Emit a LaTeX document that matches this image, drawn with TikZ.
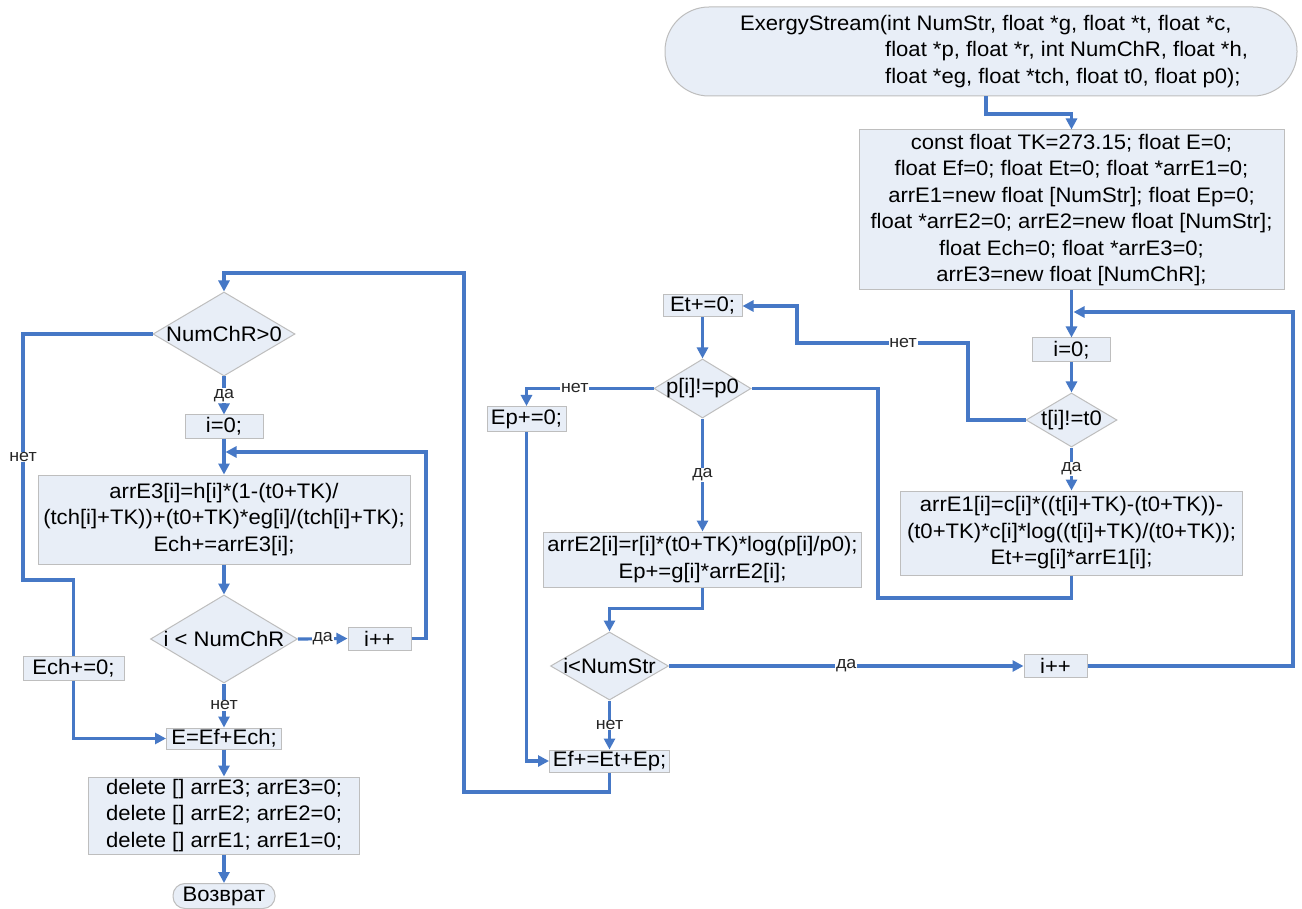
\documentclass[tikz,border=0pt]{standalone}
\usepackage{fontspec}
\setmainfont{Liberation Sans}[FakeStretch=1.05]
\usetikzlibrary{shapes.geometric,arrows.meta,calc}
\definecolor{flow}{RGB}{70,120,198}
\definecolor{boxfill}{RGB}{232,238,247}
\definecolor{boxline}{RGB}{190,190,190}
\begin{document}
\begin{tikzpicture}[x=1pt,y=-1pt,
  every node/.style={font=\fontsize{21}{26.5}\selectfont},
  blk/.style={draw=boxline, fill=boxfill, line width=1pt, inner sep=0pt, align=center},
  term/.style={blk, rounded corners=#1},
  dec/.style={draw=boxline, fill=boxfill, line width=1pt, diamond, inner sep=0pt},
  flowline/.style={draw=flow, line width=3.2pt},
  arr/.style={flowline, -{Triangle[length=11pt,width=11pt]}},
  lbl/.style={fill=white, inner sep=0.8pt, text=black!85, font=\fontsize{17}{18}\selectfont},
]
\useasboundingbox[fill=white] (0,0) rectangle (1302,909);

% ---- entry and initialisation
\node[term=44pt, minimum width=632, minimum height=89] (start) at (981,51.5) {};
\node[anchor=west, align=left, inner sep=0pt] (starttext) at (740,51.5)
  {ExergyStream(int NumStr, float *g, float *t, float *c,\\
   \hspace*{145pt}float *p, float *r, int NumChR, float *h,\\
   \hspace*{145pt}float *eg, float *tch, float t0, float p0);};
\node[blk, minimum width=425, minimum height=160] (init) at (1071.5,210)
  {const float TK=273.15; float E=0;\\
   float Ef=0; float Et=0; float *arrE1=0;\\
   arrE1=new float [NumStr]; float Ep=0;\\
   float *arrE2=0; arrE2=new float [NumStr];\\
   float Ech=0; float *arrE3=0;\\
   arrE3=new float [NumChR];};

% ---- loop over streams
\node[blk, minimum width=78, minimum height=24] (i0R) at (1071.5,350) {i=0;};
\node[dec, minimum width=91, minimum height=54, label={center:t[i]!=t0}] (tdiam) at (1071.5,420) {};
\node[blk, minimum width=342, minimum height=84] (arrE1) at (1071.5,533)
  {arrE1[i]=c[i]*((t[i]+TK)-(t0+TK))-\\
   (t0+TK)*c[i]*log((t[i]+TK)/(t0+TK));\\
   Et+=g[i]*arrE1[i];};
\node[blk, minimum width=79, minimum height=22] (EtZ) at (702.5,306) {Et+=0;};
\node[dec, minimum width=97, minimum height=59, label={center:p[i]!=p0}] (pdiam) at (702.5,388.5) {};
\node[blk, minimum width=79, minimum height=25] (EpZ) at (526.5,419) {Ep+=0;};
\node[blk, minimum width=318, minimum height=55] (arrE2) at (702.5,559.5)
  {arrE2[i]=r[i]*(t0+TK)*log(p[i]/p0);\\
   Ep+=g[i]*arrE2[i];};
\node[dec, minimum width=118, minimum height=68, label={center:i<NumStr}] (ndiam) at (609.5,666) {};
\node[blk, minimum width=63, minimum height=23] (ippR) at (1055.5,666) {i++};
\node[blk, minimum width=120, minimum height=22] (Ef) at (609.5,761) {Ef+=Et+Ep;};

% ---- chemical exergy
\node[dec, minimum width=142, minimum height=84, label={center:NumChR>0}] (cdiam) at (224,334) {};
\node[blk, minimum width=78, minimum height=23] (i0L) at (224,426.5) {i=0;};
\node[blk, minimum width=372, minimum height=89] (arrE3) at (224,519.5)
  {arrE3[i]=h[i]*(1-(t0+TK)/\\
   (tch[i]+TK))+(t0+TK)*eg[i]/(tch[i]+TK);\\
   Ech+=arrE3[i];};
\node[dec, minimum width=147, minimum height=88, label={center:i < NumChR}] (kdiam) at (224,639) {};
\node[blk, minimum width=63, minimum height=23] (ippL) at (379.5,638.5) {i++};
\node[blk, minimum width=101, minimum height=24] (EchZ) at (73.5,668) {Ech+=0;};
\node[blk, minimum width=115, minimum height=21] (Eres) at (224,738.5) {E=Ef+Ech;};
\node[blk, minimum width=271, minimum height=77] (del) at (224,815.5)
  {delete [] arrE3; arrE3=0;\\
   delete [] arrE2; arrE2=0;\\
   delete [] arrE1; arrE1=0;};
\node[term=12pt, minimum width=102, minimum height=25] (ret) at (224,896) {Возврат};

% ---- bend points
\coordinate (b1) at (986,114);
\coordinate (mergeR) at (1073.5,312);
\coordinate (rr) at (1293,312);
\coordinate (tn1) at (968,343);
\coordinate (tn2) at (797,343);
\coordinate (jr) at (878,598);
\coordinate (bg1) at (464,792);
\coordinate (bg2) at (224,273);
\coordinate (mergeL) at (225.5,452);
\coordinate (ll) at (426,452);
\coordinate (cn1) at (23,580);
\coordinate (cn2) at (73.5,580);

% ---- connectors, right part
\draw[arr] (start.south -| b1) -- (b1) -| (init.north);
\draw[arr] (init.south) -- (i0R.north);
\draw[arr] (i0R.south) -- (tdiam.north);
\draw[arr] (tdiam.south) -- node[lbl]{да} (arrE1.north);
\draw[arr] (tdiam.west) -| (tn1) -- node[lbl,pos=0.38]{нет} (tn2) |- (EtZ.east);
\draw[arr] (EtZ.south) -- (pdiam.north);
\draw[arr] (pdiam.west) -| node[lbl,pos=0.31]{нет} (EpZ.north);
\draw[arr] (pdiam.south) -- node[lbl]{да} (arrE2.north);
\draw[flowline] (arrE1.south) |- (jr) |- (pdiam.east);
\draw[arr] (arrE2.south) -- ++(0,21) -| (ndiam.north);
\draw[arr] (EpZ.south) |- (Ef.west);
\draw[arr] (ndiam.east) -- node[lbl]{да} (ippR.west);
\draw[arr] (ippR.east) -| (rr) -- (mergeR);
\draw[arr] (ndiam.south) -- node[lbl]{нет} (Ef.north);
\draw[arr] (Ef.south) |- (bg1) |- (bg2) -- (cdiam.north);

% ---- connectors, left part
\draw[flowline] (cdiam.west) -| node[lbl,pos=0.75]{нет} (cn1) -- (cn2) -- (EchZ.north);
\draw[arr] (EchZ.south) |- (Eres.west);
\draw[arr] (cdiam.south) -- node[lbl]{да} (i0L.north);
\draw[arr] (i0L.south) -- (arrE3.north);
\draw[arr] (arrE3.south) -- (kdiam.north);
\draw[arr] (kdiam.east) -- node[lbl]{да} (ippL.west);
\draw[arr] (ippL.east) -| (ll) -- (mergeL);
\draw[arr] (kdiam.south) -- node[lbl]{нет} (Eres.north);
\draw[arr] (Eres.south) -- (del.north);
\draw[arr] (del.south) -- (ret.north);
\end{tikzpicture}
\end{document}
